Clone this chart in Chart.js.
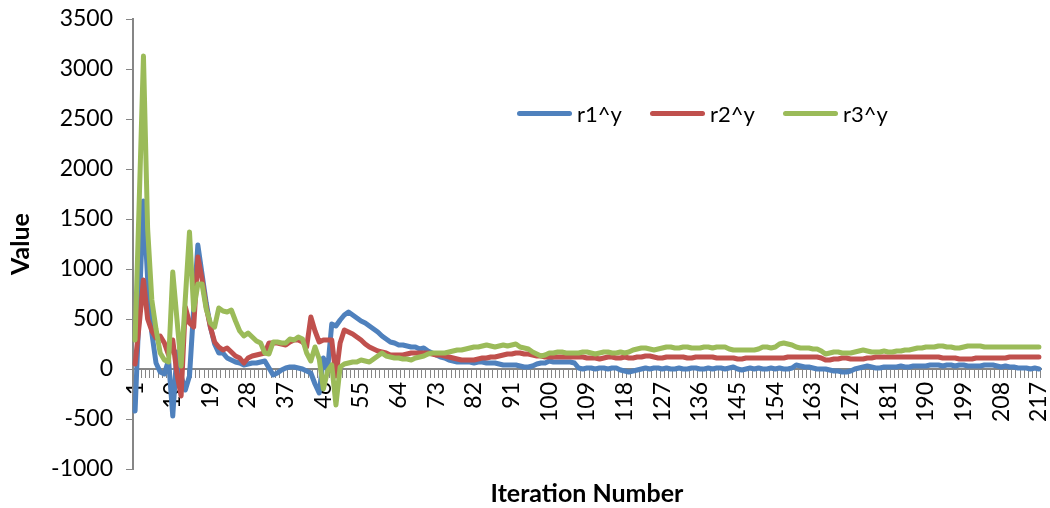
<!DOCTYPE html>
<html>
<head>
<meta charset="utf-8">
<script src="https://cdn.jsdelivr.net/npm/chart.js@4.4.1/dist/chart.umd.min.js"></script>
<style>
  html, body { margin: 0; padding: 0; background: #fff; }
  #wrap { position: relative; width: 1050px; height: 508px; }
  #legend { position: absolute; left: 517px; top: 100px; display: flex; font-family: Lato, sans-serif; font-size: 22px; color: #000; }
  .item { width: 133px; display: flex; align-items: center; height: 26px; }
  .swatch { width: 55px; height: 5px; border-radius: 3px; margin-right: 5px; }
  #xtitle { position: absolute; left: 387px; width: 400px; top: 477px; text-align: center; font-family: Lato, sans-serif; font-weight: bold; font-size: 25px; line-height: 30px; color: #000; }
</style>
</head>
<body>
<div id="wrap">
  <canvas id="chart" width="1050" height="508"></canvas>
  <div id="legend"></div>
  <div id="xtitle">Iteration Number</div>
</div>
<script>
// iteration numbers on the x axis
const iterations = Array.from({ length: 217 }, (_, i) => i + 1);
const tickLabels = ['1', '10', '19', '28', '37', '46', '55', '64', '73', '82', '91', '100', '109',
  '118', '127', '136', '145', '154', '163', '172', '181', '190', '199', '208', '217'];
const yTicks = [-1000, -500, 0, 500, 1000, 1500, 2000, 2500, 3000, 3500];

const seriesNames = ['r1^y', 'r2^y', 'r3^y'];
const seriesColors = ['#4F81BD', '#C0504D', '#9BBB59'];

const r1 = [
  -420, 630, 1680, 900, 360, 60, -30, -50, 90, -470,
  170, -70, -210, -70, 600, 1240, 950, 660, 420, 250,
  160, 160, 110, 90, 70, 60, 40, 50, 60, 60,
  70, 80, 10, -60, -40, -10, 10, 20, 20, 10,
  0, -20, -40, -150, -240, 110, -10, 450, 430, 490,
  540, 570, 540, 510, 480, 460, 430, 400, 370, 330,
  300, 270, 260, 240, 240, 230, 220, 220, 200, 210,
  180, 160, 140, 120, 110, 90, 80, 70, 70, 70,
  70, 60, 70, 70, 60, 60, 60, 50, 40, 40,
  40, 40, 30, 20, 20, 30, 50, 60, 60, 80,
  70, 70, 70, 70, 70, 60, 10, 0, 10, 10,
  0, 10, 10, 0, 10, 10, -10, -20, -30, -20,
  -10, 0, 10, 0, 10, 10, 0, 10, 0, 0,
  10, 0, 0, 10, 10, 0, 0, 10, 0, 10,
  10, 0, 10, 20, 0, -10, 0, 10, 0, 10,
  0, 0, 10, 0, 10, 0, 0, 10, 40, 30,
  20, 20, 10, 0, 0, 0, -10, -20, -20, -30,
  -30, -20, 0, 10, 20, 30, 20, 10, 10, 20,
  20, 20, 20, 30, 20, 20, 30, 30, 30, 30,
  40, 40, 40, 30, 40, 40, 30, 40, 40, 30,
  30, 30, 30, 40, 40, 40, 30, 20, 30, 20,
  20, 10, 10, 10, 0, 10, 0
];

const r2 = [
  50, 450, 890, 500, 380, 310, 330, 260, 140, 290,
  -50, -270, 620, 460, 420, 1120, 900, 620, 420, 270,
  220, 190, 210, 170, 130, 110, 60, 110, 130, 140,
  150, 160, 260, 260, 260, 250, 240, 270, 290, 290,
  270, 220, 520, 380, 270, 290, 290, 290, -70, 260,
  390, 370, 350, 320, 290, 250, 220, 200, 180, 170,
  160, 140, 140, 140, 140, 150, 160, 160, 160, 160,
  160, 150, 140, 140, 130, 120, 110, 100, 90, 90,
  90, 90, 100, 110, 110, 120, 120, 130, 140, 150,
  150, 160, 160, 150, 150, 140, 130, 130, 120, 120,
  120, 120, 120, 120, 120, 120, 120, 120, 110, 110,
  110, 100, 110, 120, 120, 110, 110, 120, 110, 110,
  120, 120, 130, 130, 120, 110, 110, 120, 120, 120,
  120, 120, 110, 110, 120, 120, 120, 120, 120, 110,
  110, 110, 110, 110, 100, 100, 110, 110, 110, 110,
  110, 110, 110, 110, 110, 110, 120, 120, 120, 120,
  120, 120, 120, 120, 110, 90, 90, 100, 100, 110,
  110, 100, 100, 100, 100, 110, 110, 120, 120, 120,
  120, 120, 120, 120, 120, 120, 120, 120, 120, 120,
  120, 120, 120, 110, 110, 110, 110, 100, 100, 100,
  100, 110, 110, 110, 110, 110, 110, 110, 110, 120,
  120, 120, 120, 120, 120, 120, 120
];

const r3 = [
  290, 1700, 3130, 1400, 690, 400, 160, 90, 70, 970,
  500, 30, 700, 1370, 590, 850, 850, 600, 460, 420,
  610, 580, 570, 590, 480, 380, 330, 360, 320, 280,
  260, 160, 150, 270, 270, 260, 260, 300, 290, 320,
  300, 160, 80, 220, 100, -200, -20, 40, -360, 20,
  50, 60, 70, 70, 90, 80, 70, 100, 130, 160,
  130, 120, 110, 110, 100, 100, 90, 110, 120, 130,
  150, 160, 160, 160, 160, 170, 180, 190, 190, 200,
  210, 220, 220, 230, 240, 230, 220, 230, 240, 230,
  240, 250, 220, 210, 200, 170, 150, 130, 140, 160,
  160, 170, 170, 160, 160, 160, 160, 170, 170, 160,
  150, 160, 170, 170, 160, 160, 170, 160, 170, 190,
  200, 210, 210, 200, 190, 200, 210, 220, 220, 210,
  210, 220, 220, 210, 210, 210, 220, 220, 210, 220,
  220, 220, 200, 190, 190, 190, 190, 190, 190, 200,
  220, 220, 210, 220, 250, 260, 250, 240, 220, 210,
  210, 210, 200, 200, 180, 150, 160, 170, 170, 160,
  160, 160, 170, 180, 190, 180, 170, 170, 170, 180,
  170, 170, 180, 180, 190, 190, 200, 210, 210, 220,
  220, 220, 230, 230, 220, 220, 210, 210, 220, 230,
  230, 230, 230, 220, 220, 220, 220, 220, 220, 220,
  220, 220, 220, 220, 220, 220, 220
];

document.addEventListener('DOMContentLoaded', () => {
  const axisGray = '#868686';
  Chart.defaults.font.family = 'Lato, sans-serif';
  Chart.defaults.color = '#000';

  // legend drawn as html over the plot
  const legend = document.getElementById('legend');
  seriesNames.forEach((name, i) => {
    const item = document.createElement('div');
    item.className = 'item';
    item.innerHTML = `<span class="swatch" style="background:${seriesColors[i]}"></span><span>${name}</span>`;
    legend.appendChild(item);
  });

  const allSeries = [r1, r2, r3];
  const ctx = document.getElementById('chart').getContext('2d');

  new Chart(ctx, {
    type: 'line',
    data: {
      labels: iterations,
      datasets: allSeries.map((values, i) => ({
        label: seriesNames[i],
        data: values,
        borderColor: seriesColors[i],
        backgroundColor: seriesColors[i],
        borderWidth: 5,
        borderJoinStyle: 'round',
        borderCapStyle: 'round',
        pointRadius: 0,
        tension: 0,
        order: 3 - i
      }))
    },
    options: {
      responsive: false,
      animation: false,
      layout: { padding: { top: 19, right: 9, left: 0, bottom: 39 } },
      plugins: {
        legend: { display: false },
        tooltip: { enabled: false }
      },
      scales: {
        x: {
          type: 'category',
          position: { y: 0 },
          offset: true,
          grid: {
            offset: true,
            drawOnChartArea: false,
            drawTicks: true,
            tickLength: 8,
            color: axisGray,
            lineWidth: 1
          },
          border: { display: true, color: axisGray, width: 2 },
          ticks: {
            autoSkip: false,
            minRotation: 90,
            maxRotation: 90,
            padding: 5,
            font: { size: 23 },
            callback: function (value) {
              const lbl = String(this.getLabelForValue(value));
              return tickLabels.includes(lbl) ? lbl : '';
            }
          },
          afterFit: s => {
            s.height = 0;
            s.paddingLeft = 0;
            s.paddingRight = 0;
            s.paddingTop = 0;
            s.paddingBottom = 0;
          }
        },
        y: {
          min: yTicks[0],
          max: yTicks[yTicks.length - 1],
          grid: {
            drawOnChartArea: false,
            drawTicks: true,
            tickLength: 7,
            color: axisGray
          },
          border: { display: true, color: axisGray, width: 2 },
          afterBuildTicks: s => { s.ticks = yTicks.map(v => ({ value: v })); },
          ticks: {
            padding: 13,
            font: { size: 23 },
            callback: v => String(v)
          },
          title: {
            display: true,
            text: 'Value',
            font: { size: 25, weight: 'bold' },
            padding: { top: 6, bottom: 0 }
          },
          afterFit: s => {
            s.width = 133;
            s.paddingTop = 0;
            s.paddingBottom = 0;
          }
        }
      }
    }
  });
});
</script>
</body>
</html>
